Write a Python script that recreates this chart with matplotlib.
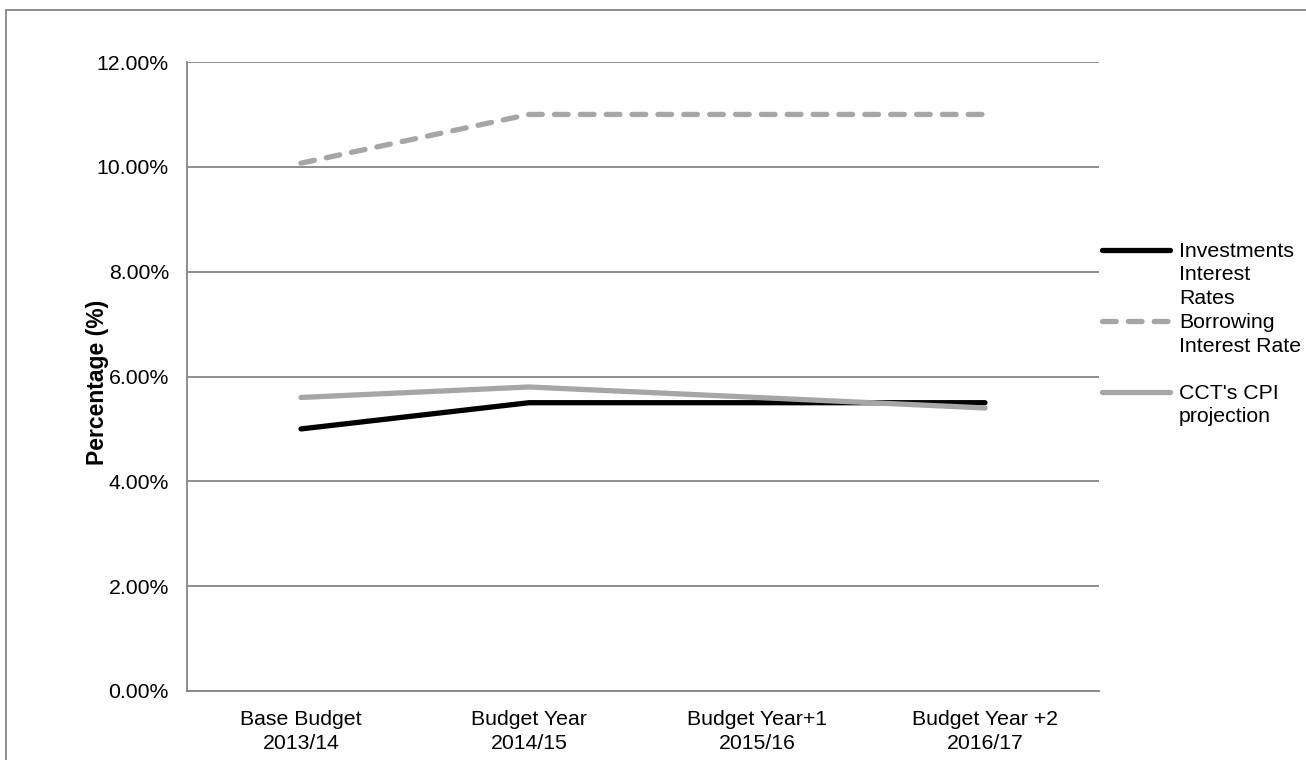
import matplotlib
matplotlib.use("Agg")
import matplotlib.pyplot as plt
from matplotlib.lines import Line2D
from matplotlib.patches import Rectangle
from matplotlib.ticker import FuncFormatter

plt.rcParams['font.family'] = ['Liberation Sans', 'DejaVu Sans']

# Data
categories = ["Base Budget\n2013/14", "Budget Year\n2014/15",
              "Budget Year+1\n2015/16", "Budget Year +2\n2016/17"]
investments = [5.0, 5.5, 5.5, 5.5]
borrowing = [10.07, 11.0, 11.0, 11.0]
cpi = [5.6, 5.8, 5.6, 5.4]
series_labels = ["Investments\nInterest\nRates", "Borrowing\nInterest Rate",
                 "CCT's CPI\nprojection"]

W, H = 1306, 760
FS = 15.3
fig = plt.figure(figsize=(W / 100, H / 100), dpi=100)

# plot area in pixels: x 187..1099, y 62..691
ax = fig.add_axes([187 / W, 1 - 691 / H, (1099 - 187) / W, (691 - 62) / H])

x = range(len(categories))
gray = '#A6A6A6'
dash = (0, (2.6, 2.3))
lw = 3.8
ax.plot(x, borrowing, color=gray, lw=lw, ls=dash,
        dash_capstyle='round', solid_capstyle='round', zorder=3)
ax.plot(x, investments, color='black', lw=lw, solid_capstyle='round', zorder=4)
ax.plot(x, cpi, color=gray, lw=lw, solid_capstyle='round', zorder=5)

ax.set_xlim(-0.5, len(categories) - 0.5)
ax.set_ylim(0, 12)
ax.set_yticks([0, 2, 4, 6, 8, 10, 12])
ax.yaxis.set_major_formatter(FuncFormatter(lambda v, p: f"{v:.2f}%"))
ax.set_xticks(list(x))
ax.set_xticklabels(categories, fontsize=FS, linespacing=1.3)
ax.tick_params(axis='y', length=0, pad=13, labelsize=FS)
ax.tick_params(axis='x', length=0, pad=14)

ax.grid(axis='y', color='#868686', lw=1.3)
ax.set_axisbelow(True)
for s in ['top', 'right']:
    ax.spines[s].set_visible(False)
for s in ['left', 'bottom']:
    ax.spines[s].set_color('#868686')
    ax.spines[s].set_linewidth(1.3)

ax.set_ylabel("Percentage (%)", fontsize=16.5, fontweight='bold')
ax.yaxis.set_label_coords(-0.085, 0.49)

# legend drawn by hand so the key sits on the first text line
handles = [
    dict(color='black', ls='-'),
    dict(color=gray, ls=dash),
    dict(color=gray, ls='-'),
]
legend_y = [250, 321, 392]
for lab, hy, st in zip(series_labels, legend_y, handles):
    fig.add_artist(Line2D([1102 / W, 1170 / W], [1 - hy / H, 1 - hy / H],
                          transform=fig.transFigure, lw=lw,
                          dash_capstyle='round', solid_capstyle='round', **st))
    fig.text(1179 / W, 1 - (hy - 8) / H, lab, fontsize=FS, va='top',
             ha='left', linespacing=1.3)

# outer chart border (left and top visible)
fig.add_artist(Rectangle((6 / W, -0.05), 1.2, 1 - 10 / H + 0.05,
                         transform=fig.transFigure, fill=False,
                         ec='#868686', lw=1.3))

fig.savefig("out.png", dpi=100)
